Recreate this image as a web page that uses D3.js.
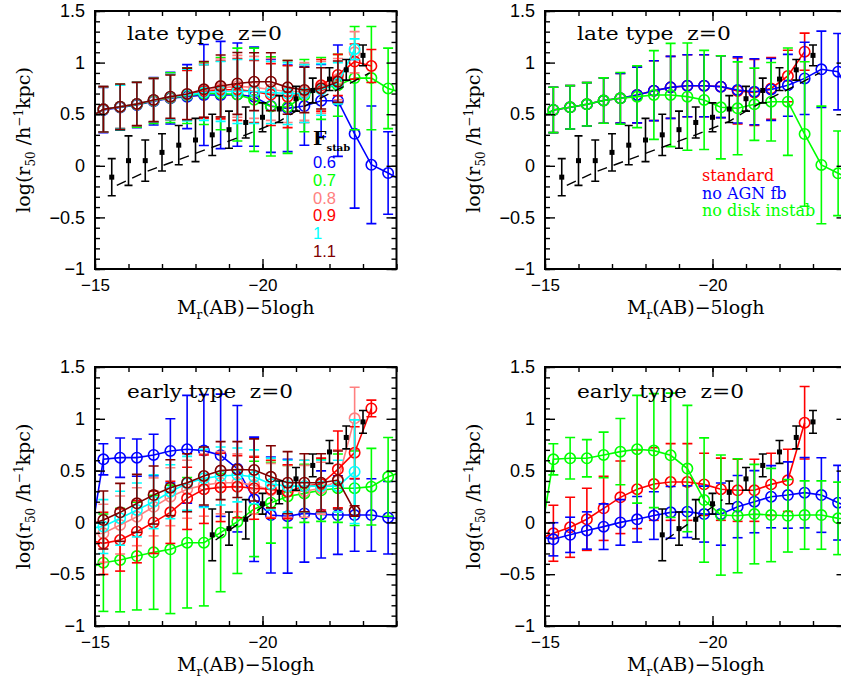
<!DOCTYPE html>
<html><head><meta charset="utf-8">
<script src="https://cdn.jsdelivr.net/npm/d3@7"></script>
<style>body{margin:0;background:#fff}svg{display:block}</style>
</head><body>
<script>
// ---------------- DATA ----------------
const mags = [-14.75,-15.25,-15.75,-16.25,-16.75,-17.25,-17.75,-18.25,-18.75,-19.25,-19.75,-20.25,-20.75,-21.25,-21.75,-22.25,-22.75,-23.25,-23.75,-24.25];

// late type, F_stab variants
const lateF06 = [0.45,0.54,0.565,0.59,0.625,0.655,0.67,0.686,0.686,0.69,0.67,0.58,0.557,0.579,0.631,0.631,0.31,0.01,-0.07,-0.16];
const lateF06e = [null,0.22,0.22,0.22,0.23,0.25,0.31,0.49,0.52,0.5,0.48,0.45,0.42,0.38,0.35,0.54,0.72,0.57,0.4,null];
const lateF07 = [0.45,0.545,0.57,0.595,0.63,0.66,0.68,0.70,0.70,0.69,0.64,0.575,0.57,0.68,0.75,0.78,0.85,0.85,0.75,0.70];
const lateF07e = [null,0.22,0.22,0.22,0.22,0.24,0.27,0.3,0.35,0.45,0.5,0.48,0.45,0.35,0.3,0.3,0.5,0.5,0.39,null];
const lateF08 = [0.45,0.547,0.572,0.598,0.636,0.667,0.69,0.73,0.755,0.77,0.76,0.74,0.72,0.72,0.76,0.84,1.10,null,null,null];
const lateF08e = [null,0.22,0.21,0.21,0.21,0.22,0.24,0.26,0.28,0.3,0.3,0.3,0.3,0.28,0.25,0.2,0.2,null,null,null];
const lateF09 = [0.45,0.547,0.572,0.598,0.635,0.665,0.685,0.72,0.735,0.74,0.72,0.69,0.67,0.70,0.78,0.88,1.01,0.967,null,null];
const lateF09e = [null,0.22,0.21,0.21,0.21,0.22,0.24,0.26,0.28,0.3,0.3,0.3,0.3,0.28,0.25,0.2,0.17,0.16,null,null];
const lateF10 = [0.45,0.547,0.572,0.598,0.636,0.667,0.685,0.71,0.72,0.72,0.72,0.71,0.70,0.70,0.74,0.80,1.13,null,null,null];
const lateF10e = [null,0.22,0.21,0.21,0.21,0.22,0.25,0.27,0.29,0.31,0.31,0.3,0.3,0.28,0.25,0.2,0.1,null,null,null];
const lateF11 = [0.45,0.547,0.573,0.599,0.638,0.670,0.696,0.741,0.773,0.798,0.815,0.815,0.76,0.735,0.75,0.815,null,null,null,null];
const lateF11e = [null,0.22,0.22,0.21,0.21,0.21,0.25,0.27,0.3,0.3,0.28,0.28,0.26,0.22,0.2,0.2,null,null,null,null];

// late type, physics variants
const lateStd = [0.44,0.541,0.567,0.596,0.632,0.654,0.686,0.728,0.76,0.776,0.776,0.767,0.725,0.71,0.75,0.87,1.106,null,null,null];
const lateStde = [null,0.22,0.21,0.21,0.22,0.24,0.27,0.29,0.3,0.3,0.3,0.3,0.32,0.32,0.3,0.25,0.18,null,null,null];
const lateNoAGN = [0.44,0.541,0.567,0.596,0.632,0.654,0.686,0.728,0.76,0.776,0.776,0.767,0.735,0.718,0.74,0.78,0.847,0.935,0.912,0.6];
const lateNoAGNe = [null,0.22,0.21,0.21,0.22,0.24,0.27,0.29,0.3,0.3,0.3,0.3,0.32,0.32,0.3,0.3,0.35,0.37,0.37,null];
const lateNoDisk = [0.44,0.541,0.567,0.596,0.632,0.654,0.67,0.686,0.686,0.67,0.638,0.567,0.557,0.596,0.621,0.621,0.308,0.008,-0.073,-0.15];
const lateNoDiske = [null,0.22,0.21,0.21,0.22,0.25,0.3,0.43,0.5,0.52,0.48,0.5,0.45,0.35,0.38,0.52,0.7,0.57,0.41,null];

// early type, F_stab variants
const earlyF06 = [-0.40,0.609,0.625,0.625,0.651,0.69,0.706,0.693,0.648,0.518,0.223,0.071,0.06,0.087,0.077,0.071,0.071,0.071,0.045,0.035];
const earlyF06e = [null,0.15,0.19,0.18,0.2,0.31,0.52,0.54,0.59,0.61,0.6,0.56,0.55,0.47,0.42,0.38,0.35,0.35,0.35,null];
const earlyF07 = [-0.45,-0.389,-0.363,-0.325,-0.289,-0.26,-0.196,-0.196,-0.099,0.007,0.13,0.19,0.25,0.28,0.31,0.33,0.33,0.345,0.44,0.5];
const earlyF07e = [null,0.47,0.5,0.52,0.55,0.62,0.63,0.61,0.57,0.5,0.46,0.39,0.3,0.28,0.3,0.33,0.36,0.37,0.38,null];
const earlyF08 = [-0.12,-0.105,-0.025,0.055,0.15,0.248,0.32,0.36,0.383,0.383,0.36,0.31,0.30,0.30,0.33,0.40,1.005,null,null,null];
const earlyF08e = [null,0.28,0.28,0.28,0.28,0.28,0.28,0.3,0.3,0.28,0.28,0.26,0.25,0.25,0.25,0.3,0.3,null,null,null];
const earlyF09 = [-0.17,-0.202,-0.17,-0.09,0.0,0.097,0.232,0.32,0.338,0.345,0.33,0.32,0.296,0.35,0.37,0.512,0.673,1.10,null,null];
const earlyF09e = [null,0.3,0.3,0.3,0.3,0.3,0.3,0.33,0.33,0.3,0.3,0.28,0.26,0.25,0.25,0.37,0.25,0.08,null,null];
const earlyF10 = [-0.06,-0.04,0.04,0.12,0.2,0.296,0.377,0.425,0.448,0.458,0.44,0.37,0.35,0.35,0.35,0.35,0.49,null,null,null];
const earlyF10e = [null,0.26,0.26,0.26,0.26,0.26,0.26,0.28,0.28,0.26,0.26,0.25,0.25,0.25,0.25,0.25,0.5,null,null,null];
const earlyF11 = [-0.03,0.023,0.097,0.184,0.264,0.335,0.383,0.448,0.50,0.51,0.506,0.44,0.383,0.383,0.383,0.409,0.11,null,null,null];
const earlyF11e = [null,0.28,0.28,0.28,0.28,0.27,0.28,0.28,0.28,0.27,0.3,0.3,0.3,0.28,0.28,0.28,0.05,null,null,null];

// early type, physics variants
const earlyStd = [-0.17,-0.105,-0.047,0.03,0.136,0.242,0.32,0.37,0.39,0.39,0.367,0.32,0.31,0.31,0.367,0.406,0.962,null,null,null];
const earlyStde = [null,0.27,0.29,0.3,0.31,0.35,0.38,0.35,0.37,0.37,0.3,0.3,0.3,0.3,0.3,0.3,0.35,null,null,null];
const earlyNoAGN = [-0.13,-0.163,-0.12,-0.078,-0.041,0.0,0.03,0.066,0.097,0.104,0.08,0.08,0.152,0.2,0.248,0.264,0.287,0.264,0.19,0.12];
const earlyNoAGNe = [null,0.16,0.17,0.18,0.22,0.22,0.22,0.23,0.25,0.25,0.27,0.3,0.3,0.3,0.3,0.32,0.34,0.36,0.36,null];
const earlyNoDisk = [-0.4,0.609,0.619,0.619,0.651,0.683,0.706,0.693,0.648,0.52,0.216,0.071,0.064,0.08,0.071,0.064,0.071,0.071,0.039,0.03];
const earlyNoDiske = [null,0.15,0.2,0.18,0.22,0.32,0.52,0.55,0.6,0.61,0.6,0.58,0.55,0.48,0.45,0.35,0.33,0.33,0.35,null];

// observations
const obsLateMag = [-15.5,-16,-16.5,-17,-17.5,-18,-18.5,-19,-19.5,-20,-20.5,-21,-21.5,-22,-22.5,-23];
const obsLateVal = [-0.11,0.05,0.05,0.13,0.20,0.25,0.30,0.35,0.42,0.47,0.55,0.65,0.73,0.84,0.93,1.07];
const obsLateErr = [0.18,0.24,0.2,0.18,0.19,0.21,0.2,0.18,0.15,0.14,0.13,0.12,0.12,0.11,0.1,0.1];
const obsEarlyMag = [-18.5,-19,-19.5,-20,-20.5,-21,-21.5,-22,-22.5,-23];
const obsEarlyVal = [-0.12,-0.06,0.03,0.18,0.29,0.42,0.55,0.68,0.82,0.97];
const obsEarlyErr = [0.25,0.16,0.19,0.1,0.11,0.11,0.11,0.11,0.11,0.11];
const fitLateMag = [-15.65,-16.5,-17.5,-18.5,-19.5,-20.5,-21,-21.5,-22,-22.5,-23.2];
const fitLateVal = [-0.19,-0.06,0.06,0.18,0.30,0.43,0.53,0.62,0.70,0.78,0.90];
const fitEarlyMag = [-18.6,-20.3];
const fitEarlyVal = [-0.17,0.22];

const fstabLabels = ["0.6","0.7","0.8","0.9","1","1.1"];
const physLabels = ["standard","no AGN fb","no disk instab"];
const yTicks = [-1,-0.5,0,0.5,1,1.5];
const xTicks = [-15,-20];

// ---------------- STYLE ----------------
const C = {blue:"#0000ff", green:"#00ff00", pink:"#ff8080", red:"#ff0000", cyan:"#00ffff", brown:"#800000"};
const W = 841, H = 690;
const svg = d3.select("body").append("svg").attr("width", W).attr("height", H);
const serif = "'DejaVu Serif', serif";
const sans = "'Liberation Sans', Arial, sans-serif";
const fmt = v => String(v).replace("-", "\u2212");

const panels = [
  {id:0, x0:95, y0:11, y1:269, title:"late type  z=0", tw:155, obs:"late",
   series:[[lateF06,lateF06e,C.blue],[lateF07,lateF07e,C.green],[lateF08,lateF08e,C.pink],[lateF09,lateF09e,C.red],[lateF10,lateF10e,C.cyan],[lateF11,lateF11e,C.brown]]},
  {id:1, x0:545, y0:11, y1:269, title:"late type  z=0", tw:154, obs:"late",
   series:[[lateStd,lateStde,C.red],[lateNoAGN,lateNoAGNe,C.blue],[lateNoDisk,lateNoDiske,C.green]]},
  {id:2, x0:95, y0:367, y1:626, title:"early type  z=0", tw:166, obs:"early",
   series:[[earlyF06,earlyF06e,C.blue],[earlyF07,earlyF07e,C.green],[earlyF08,earlyF08e,C.pink],[earlyF09,earlyF09e,C.red],[earlyF10,earlyF10e,C.cyan],[earlyF11,earlyF11e,C.brown]]},
  {id:3, x0:545, y0:367, y1:626, title:"early type  z=0", tw:167, obs:"early",
   series:[[earlyStd,earlyStde,C.red],[earlyNoAGN,earlyNoAGNe,C.blue],[earlyNoDisk,earlyNoDiske,C.green]]}
];
const PW = 301.5;

panels.forEach(p => {
  const x = d3.scaleLinear().domain([-15,-24]).range([p.x0, p.x0+PW]);
  const y = d3.scaleLinear().domain([-1,1.5]).range([p.y1, p.y0]);
  const g = svg.append("g");
  const clipId = "clip"+p.id;
  svg.append("clipPath").attr("id", clipId).append("rect")
    .attr("x", p.x0).attr("y", p.y0).attr("width", PW).attr("height", p.y1-p.y0);
  const cg = g.append("g").attr("clip-path", `url(#${clipId})`);

  // model series
  p.series.forEach(([vals, errs, col]) => {
    const pts = mags.map((m,i) => ({m, v: vals[i], e: errs[i]}));
    const line = d3.line().defined(d => d.v != null).x(d => x(d.m)).y(d => y(d.v));
    cg.append("path").attr("d", line(pts)).attr("fill","none").attr("stroke",col).attr("stroke-width",1.6);
    const eb = pts.filter(d => d.v != null && d.e != null);
    const eg = cg.append("g").attr("stroke", col).attr("stroke-width",1.6);
    eb.forEach(d => {
      const xx = x(d.m), ya = y(d.v + d.e), yb = y(d.v - d.e);
      eg.append("line").attr("x1",xx).attr("x2",xx).attr("y1",ya).attr("y2",yb);
      eg.append("line").attr("x1",xx-5).attr("x2",xx+5).attr("y1",ya).attr("y2",ya);
      eg.append("line").attr("x1",xx-5).attr("x2",xx+5).attr("y1",yb).attr("y2",yb);
    });
    cg.append("g").selectAll("circle").data(pts.filter(d => d.v != null)).join("circle")
      .attr("cx", d => x(d.m)).attr("cy", d => y(d.v)).attr("r", 5.2)
      .attr("fill","none").attr("stroke",col).attr("stroke-width",1.6);
  });

  // observations
  const oM = p.obs === "late" ? obsLateMag : obsEarlyMag;
  const oV = p.obs === "late" ? obsLateVal : obsEarlyVal;
  const oE = p.obs === "late" ? obsLateErr : obsEarlyErr;
  const fM = p.obs === "late" ? fitLateMag : fitEarlyMag;
  const fV = p.obs === "late" ? fitLateVal : fitEarlyVal;
  cg.append("path").attr("d", d3.line().x(d => x(d[0])).y(d => y(d[1]))(fM.map((m,i)=>[m,fV[i]])))
    .attr("fill","none").attr("stroke","#000").attr("stroke-width",1.4).attr("stroke-dasharray","10,7");
  const og = cg.append("g").attr("stroke","#000").attr("stroke-width",1.6);
  oM.forEach((m,i) => {
    const xx = x(m), ya = y(oV[i]+oE[i]), yb = y(oV[i]-oE[i]);
    og.append("line").attr("x1",xx).attr("x2",xx).attr("y1",ya).attr("y2",yb);
    og.append("line").attr("x1",xx-4).attr("x2",xx+4).attr("y1",ya).attr("y2",ya);
    og.append("line").attr("x1",xx-4).attr("x2",xx+4).attr("y1",yb).attr("y2",yb);
  });
  cg.append("g").selectAll("rect").data(oM.map((m,i)=>[m,oV[i]])).join("rect")
    .attr("x", d => x(d[0])-2.5).attr("y", d => y(d[1])-2.5).attr("width",5).attr("height",5).attr("fill","#000");

  // axes with inward ticks on all sides
  const minorY = d3.range(-10,16).map(k => k/10);
  const minorX = d3.range(-24,-14);
  const addAxis = (axis, tr, vals, size, labels) => {
    const a = g.append("g").attr("transform", tr)
      .call(axis.tickValues(vals).tickSize(size).tickPadding(10).tickFormat(labels ? fmt : ""));
    a.select(".domain").remove();
    a.selectAll("line").attr("stroke","#000").attr("stroke-width",1.4);
    a.selectAll("text").attr("font-family", sans).attr("font-size",18).attr("fill","#000");
    return a;
  };
  addAxis(d3.axisLeft(y), `translate(${p.x0},0)`, minorY, -5, false);
  addAxis(d3.axisLeft(y), `translate(${p.x0},0)`, yTicks, -10, true);
  addAxis(d3.axisRight(y), `translate(${p.x0+PW},0)`, minorY, -5, false);
  addAxis(d3.axisRight(y), `translate(${p.x0+PW},0)`, yTicks, -10, false);
  addAxis(d3.axisBottom(x), `translate(0,${p.y1})`, minorX, -5, false);
  const xb = addAxis(d3.axisBottom(x), `translate(0,${p.y1})`, xTicks, -10, true);
  xb.selectAll("text").attr("font-size",17).attr("dy","0.72em");
  addAxis(d3.axisTop(x), `translate(0,${p.y0})`, minorX, -5, false);
  addAxis(d3.axisTop(x), `translate(0,${p.y0})`, xTicks, -10, false);

  g.append("rect").attr("x",p.x0).attr("y",p.y0).attr("width",PW).attr("height",p.y1-p.y0)
    .attr("fill","none").attr("stroke","#000").attr("stroke-width",2);

  // title
  g.append("text").attr("x", p.x0+32).attr("y", p.y0 + (p.id < 2 ? 29 : 31))
    .attr("font-family", serif).attr("font-size",18).attr("fill","#000")
    .style("white-space","pre").attr("textLength", p.tw).attr("lengthAdjust","spacingAndGlyphs")
    .text(p.title);

  // axis titles
  const yl = g.append("text").attr("transform", `translate(${p.x0-65},${(p.y0+p.y1)/2}) rotate(-90)`)
    .attr("text-anchor","middle").attr("font-family", serif).attr("font-size",19).attr("fill","#000");
  yl.append("tspan").text("log(r");
  yl.append("tspan").attr("font-size",12).attr("dy",5).text("50");
  yl.append("tspan").attr("dy",-5).style("white-space","pre").text(" /h");
  yl.append("tspan").attr("font-size",12).attr("dy",-7).text("\u22121");
  yl.append("tspan").attr("dy",7).text("kpc)");
  const xl = g.append("text").attr("x", p.x0+PW/2).attr("y", p.y1+45)
    .attr("text-anchor","middle").attr("font-family", serif).attr("font-size",19).attr("fill","#000");
  xl.append("tspan").text("M");
  xl.append("tspan").attr("font-size",12).attr("dy",5).text("r");
  xl.append("tspan").attr("dy",-5).text("(AB)\u22125logh");
});

// legend panel 1 (F_stab)
const fcols = [C.blue, C.green, C.pink, C.red, C.cyan, C.brown];
const ft = svg.append("text").attr("x",313).attr("y",145).attr("font-family",serif).attr("font-weight","bold").attr("fill","#000");
ft.append("tspan").attr("font-size",19).text("F");
ft.append("tspan").attr("font-size",10).attr("dy",6).text("stab");
fstabLabels.forEach((t,i) => {
  svg.append("text").attr("x",313).attr("y",168 + i*17.8).attr("font-family",sans).attr("font-size",16.5)
    .attr("fill", fcols[i]).text(t);
});
// legend panel 2 (physics)
const pcols = [C.red, C.blue, C.green];
physLabels.forEach((t,i) => {
  svg.append("text").attr("x",702).attr("y",181 + i*17.5).attr("font-family",serif).attr("font-size",16)
    .attr("fill", pcols[i]).style("white-space","pre").text(t);
});
</script>
</body></html>
